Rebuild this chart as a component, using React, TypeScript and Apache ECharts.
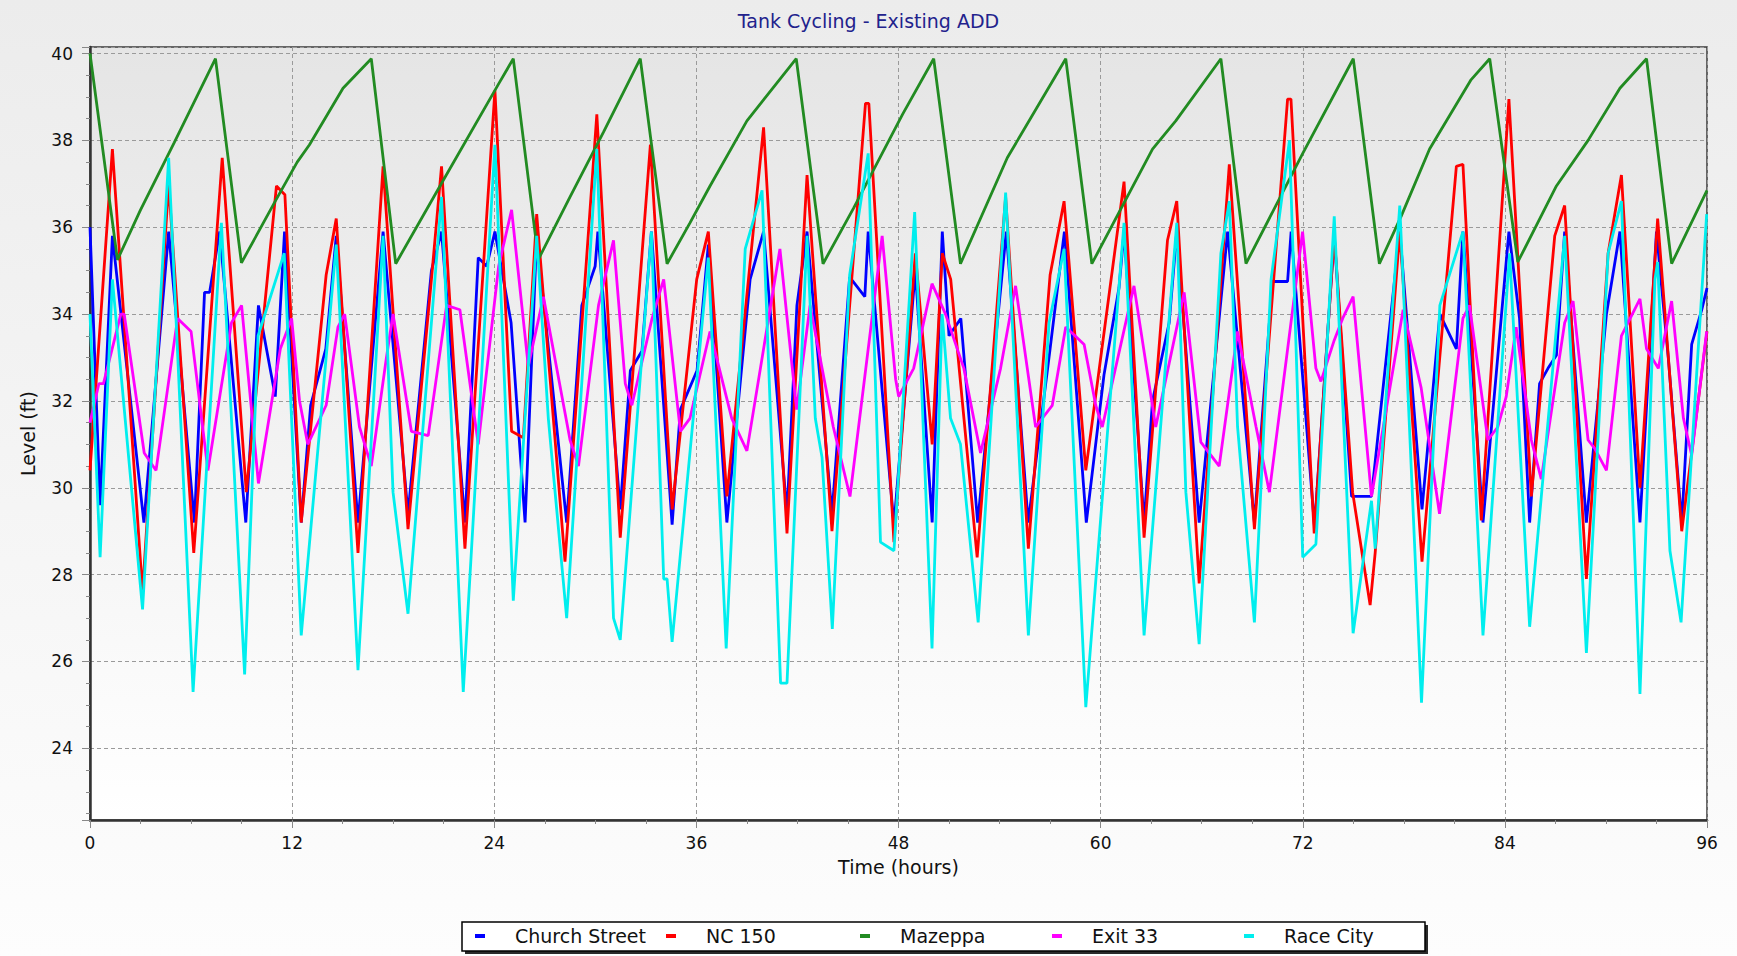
import React, { useEffect, useRef } from 'react';
import * as echarts from 'echarts';

// ---- Data (hours, level in ft) ----
const seriesNames = ['Church Street', 'NC 150', 'Mazeppa', 'Exit 33', 'Race City'];
const seriesColors = ['#0000FF', '#FF0000', '#228B22', '#FF00FF', '#00EEEE'];

const churchStreet: [number, number][] = [
  [0, 36.0], [0.6, 29.6], [1.33, 35.8], [3.2, 29.2], [4.67, 35.9], [6.2, 29.2], [6.8, 34.5], [7.1, 34.5], [7.7, 35.9], [9.25, 29.2], [10.0, 34.2], [11.0, 32.1], [11.55, 35.9],
  [12.54, 29.2], [13.1, 31.9], [14.0, 33.2], [14.62, 35.8], [15.91, 29.2], [17.4, 35.9], [18.88, 29.4], [20.27, 35.0], [20.87, 35.9], [22.26, 29.2], [23.05, 35.3], [23.55, 35.1], [24.04, 35.9],
  [25.0, 33.8], [25.83, 29.2], [26.52, 35.8], [28.3, 29.2], [29.2, 34.2], [29.99, 35.1], [30.15, 35.9], [31.48, 29.5], [32.08, 32.7], [32.77, 33.15], [33.33, 35.9], [34.06, 31.9], [34.56, 29.15], [35.05, 31.8], [36.04, 32.7],
  [36.71, 35.6], [37.81, 29.2], [39.19, 34.8], [39.99, 35.9], [41.38, 29.4], [41.97, 34.2], [42.57, 35.9], [44.05, 29.4], [45.1, 34.85], [46.0, 34.4], [46.2, 35.9], [47.73, 29.15],
  [49.0, 35.0], [50.0, 29.2], [50.6, 35.9], [51.0, 33.5], [51.7, 33.9], [52.7, 29.2], [54.4, 35.9], [55.7, 29.2], [57.0, 33.2], [57.85, 35.9], [59.15, 29.2],
  [60.2, 32.6], [61.09, 34.6], [61.39, 35.9], [62.58, 29.2], [63.08, 32.0], [64.07, 33.8], [64.52, 35.9], [65.85, 29.2], [67.54, 35.9], [69.13, 29.2], [70.2, 34.75], [71.1, 34.75], [71.31, 35.9],
  [72.7, 29.1], [73.87, 35.8], [74.9, 29.8], [76.08, 29.8], [77.76, 35.9], [79.08, 29.5], [80.14, 34.0], [81.12, 33.2], [81.51, 35.9], [82.7, 29.2], [84.24, 35.9],
  [84.87, 33.9], [85.47, 29.2], [86.06, 32.4], [86.56, 32.75], [87.06, 33.05], [87.55, 35.9], [88.84, 29.2], [90.03, 34.0], [90.83, 35.9], [92.02, 29.2], [93.0, 35.9], [93.7, 33.0], [94.5, 29.2], [95.09, 33.3], [95.69, 34.1], [96.0, 34.6],
];

const nc150: [number, number][] = [
  [0, 30.4], [1.33, 37.8], [3.12, 27.6], [4.67, 37.0], [6.16, 28.5], [7.85, 37.6], [9.28, 29.9], [11.07, 36.95], [11.57, 36.75],
  [12.54, 29.2], [14.02, 34.9], [14.62, 36.2], [15.91, 28.5], [17.4, 37.4], [18.88, 29.05], [20.27, 34.8], [20.87, 37.4], [22.26, 28.6], [24.04, 39.15],
  [25.03, 31.3], [25.73, 31.15], [26.52, 36.3], [28.2, 28.3], [30.09, 38.6], [31.48, 28.85], [33.27, 37.9], [34.56, 29.5], [36.02, 34.8], [36.71, 35.9],
  [37.81, 29.8], [39.99, 38.3], [41.38, 28.95], [42.57, 37.2], [44.05, 29.0], [46.04, 38.85], [46.24, 38.85], [47.73, 28.75],
  [49.0, 35.4], [50.0, 31.0], [50.6, 35.4], [51.1, 34.8], [52.67, 28.4], [54.36, 36.7], [55.71, 28.6], [57.0, 34.9], [57.83, 36.6], [59.12, 30.4],
  [61.39, 37.05], [62.58, 28.85], [63.97, 35.7], [64.52, 36.6], [65.85, 27.8], [67.64, 37.45], [69.13, 29.05], [71.1, 38.95], [71.3, 38.95],
  [72.68, 28.95], [73.87, 35.8], [74.96, 29.9], [76.0, 27.3], [76.3, 28.5], [77.76, 35.9], [79.08, 28.3], [81.12, 37.4], [81.51, 37.45], [82.6, 29.25], [84.24, 38.95],
  [85.57, 29.8], [86.96, 35.8], [87.55, 36.5], [88.84, 27.9], [90.13, 35.4], [90.92, 37.2], [92.02, 30.0], [93.07, 36.2], [94.5, 29.0], [96.0, 33.6],
];

const mazeppa: [number, number][] = [
  [0, 40.0], [1.63, 35.25], [3.0, 36.4], [5.0, 37.95], [7.45, 39.88], [8.99, 35.18], [11.0, 36.6], [12.3, 37.5], [13.03, 37.9], [15.02, 39.2], [16.7, 39.88],
  [18.15, 35.16], [21.0, 37.1], [24.26, 39.3], [25.13, 39.88], [26.62, 35.26], [28.5, 36.7], [30.5, 38.2], [32.67, 39.88], [34.26, 35.16], [35.62, 36.1],
  [36.81, 36.95], [39.0, 38.45], [41.93, 39.88], [43.52, 35.16], [45.35, 36.45], [48.24, 38.6], [50.09, 39.88], [51.68, 35.16], [54.46, 37.6], [57.93, 39.88],
  [59.48, 35.16], [63.08, 37.8], [64.46, 38.45], [67.14, 39.88], [68.63, 35.16], [72.0, 37.7], [75.0, 39.88], [76.55, 35.16], [77.84, 36.25], [79.53, 37.8],
  [82.0, 39.4], [83.1, 39.88], [84.77, 35.2], [87.06, 36.95], [88.94, 38.0], [90.83, 39.2], [92.41, 39.88], [93.9, 35.16], [96.0, 36.85],
];

const exit33: [number, number][] = [
  [0, 31.5], [0.53, 32.4], [0.8, 32.4], [1.83, 34.0], [2.03, 34.0], [3.22, 30.8], [3.92, 30.4], [5.2, 33.9], [6.0, 33.6], [7.0, 30.4], [8.4, 33.8], [9.0, 34.2], [10.0, 30.1], [11.3, 33.2], [11.97, 33.9],
  [12.44, 32.0], [12.93, 31.0], [14.02, 31.9], [14.72, 33.7], [15.12, 34.0], [16.0, 31.4], [16.7, 30.5], [17.6, 33.0], [17.99, 34.0], [19.08, 31.3], [20.08, 31.2], [21.17, 34.2], [21.96, 34.1], [23.05, 31.0], [24.26, 35.1],
  [25.03, 36.4], [26.02, 32.8], [26.92, 34.4], [28.5, 31.1], [29.0, 30.5], [30.19, 34.2], [31.08, 35.7], [31.78, 32.4], [32.17, 31.9], [33.37, 33.9], [34.06, 34.8], [35.05, 31.3], [35.62, 31.6], [36.81, 33.6],
  [38.1, 31.6], [39.0, 30.85], [40.96, 35.5], [41.95, 31.8], [42.75, 34.2], [44.13, 31.4], [45.12, 29.8], [47.03, 35.8], [47.83, 32.5],
  [48.01, 32.1], [48.9, 32.75], [49.99, 34.7], [50.79, 34.0], [51.88, 32.75], [52.87, 30.8], [54.06, 32.75], [54.95, 34.65], [56.14, 31.4], [57.13, 31.9], [57.93, 33.7], [59.02, 33.3], [59.71, 31.9],
  [60.1, 31.4], [61.98, 34.65], [63.27, 31.4], [64.96, 34.5], [65.95, 31.05], [67.04, 30.5], [68.13, 33.6], [69.23, 31.4], [70.02, 29.9], [71.99, 35.9],
  [72.78, 32.75], [73.08, 32.45], [73.87, 33.4], [74.37, 33.9], [74.99, 34.4], [76.08, 29.8], [77.96, 34.1], [79.03, 32.3], [80.12, 29.4], [81.51, 33.9], [81.9, 34.2], [82.99, 31.1], [83.58, 31.4], [84.08, 32.1],
  [84.67, 33.7], [85.57, 31.1], [86.16, 30.2], [87.55, 33.8], [88.05, 34.3], [88.94, 31.1], [89.34, 30.9], [90.03, 30.4], [90.92, 33.5], [92.02, 34.35], [92.41, 33.2], [93.11, 32.75], [93.9, 34.3], [94.6, 31.6], [95.09, 30.75], [95.98, 33.6],
];

const raceCity: [number, number][] = [
  [0, 34.0], [0.6, 28.4], [1.33, 34.8], [3.12, 27.2], [4.67, 37.6], [6.12, 25.3], [7.8, 36.1], [9.18, 25.7], [9.98, 33.5], [11.53, 35.4],
  [12.54, 26.6], [14.62, 35.6], [15.91, 25.8], [17.4, 35.8], [17.99, 29.9], [18.88, 27.1], [20.87, 36.7], [22.16, 25.3], [24.04, 37.9],
  [25.13, 27.4], [26.52, 35.8], [27.21, 31.6], [28.3, 27.0], [30.09, 37.8], [31.08, 27.0], [31.48, 26.5], [33.33, 35.9], [34.06, 27.9], [34.26, 27.9], [34.56, 26.45],
  [36.71, 35.3], [37.77, 26.3], [38.9, 35.5], [39.9, 36.85], [41.0, 25.5], [41.38, 25.5], [42.57, 35.8], [43.06, 31.6], [43.46, 30.7], [44.07, 26.75], [45.1, 34.9], [46.2, 37.7], [46.93, 28.75], [47.73, 28.55],
  [48.96, 36.35], [49.99, 26.3], [50.59, 34.0], [51.09, 31.6], [51.68, 31.0], [52.73, 26.9], [54.36, 36.8], [55.71, 26.6], [56.94, 33.8], [57.83, 35.5], [59.12, 24.95],
  [61.39, 36.1], [62.58, 26.6], [64.52, 36.1], [65.06, 29.9], [65.85, 26.4], [67.14, 35.4], [67.64, 36.6], [68.13, 31.4], [69.13, 26.9], [70.12, 34.8], [71.21, 38.0], [72.0, 28.4],
  [72.78, 28.7], [73.87, 36.25], [74.99, 26.65], [76.08, 29.7], [76.3, 28.6], [77.76, 36.5], [79.05, 25.05], [80.14, 34.2], [81.51, 35.9], [82.7, 26.6],
  [84.28, 35.4], [85.47, 26.8], [87.55, 35.8], [88.84, 26.2], [90.13, 35.4], [90.92, 36.6], [92.02, 25.25], [92.91, 34.8], [93.07, 35.2], [93.8, 28.55], [94.46, 26.9], [95.98, 36.3],
];

const seriesData = [churchStreet, nc150, mazeppa, exit33, raceCity];

const titleText = 'Tank Cycling - Existing ADD';
const xAxisName = 'Time (hours)';
const yAxisName = 'Level (ft)';

// left edge of each legend entry's marker (px)
const legendLefts = [475, 666, 860, 1052, 1244];

export default function App() {
  const ref = useRef<HTMLDivElement>(null);

  useEffect(() => {
    if (!ref.current) return;
    const chart = echarts.init(ref.current, null, { renderer: 'svg' });
    const font = '"DejaVu Sans", Verdana, sans-serif';
    const axisText = { fontFamily: font, fontSize: 17, color: '#111' };

    chart.setOption({
      animation: false,
      backgroundColor: {
        type: 'linear', x: 0, y: 0, x2: 0, y2: 1,
        colorStops: [{ offset: 0, color: '#ececec' }, { offset: 1, color: '#fdfdfd' }],
      },
      title: {
        text: titleText,
        left: 'center',
        top: 6,
        textStyle: { fontFamily: font, fontSize: 19, fontWeight: 'normal', color: '#22228c' },
      },
      grid: {
        left: 90, top: 47, width: 1617, height: 773,
        show: true,
        borderColor: '#3a3a3a',
        borderWidth: 1.5,
        backgroundColor: {
          type: 'linear', x: 0, y: 0, x2: 0, y2: 1,
          colorStops: [{ offset: 0, color: '#e5e5e5' }, { offset: 1, color: '#ffffff' }],
        },
      },
      xAxis: {
        type: 'value',
        min: 0, max: 96, interval: 12,
        name: xAxisName,
        nameLocation: 'middle',
        nameGap: 37,
        nameTextStyle: { fontFamily: font, fontSize: 19, color: '#111' },
        axisLine: { show: true, onZero: false, lineStyle: { color: '#333', width: 2.5 } },
        axisTick: { show: true, length: 8, lineStyle: { color: '#888' } },
        minorTick: { show: true, splitNumber: 4, length: 4, lineStyle: { color: '#888' } },
        splitLine: { show: true, lineStyle: { color: '#9a9a9a', type: [4, 3], width: 1 } },
        axisLabel: { ...axisText, margin: 14 },
      },
      yAxis: {
        type: 'value',
        min: 22.35, max: 40.15, splitNumber: 9,
        name: yAxisName,
        nameLocation: 'middle',
        nameGap: 53,
        nameTextStyle: { fontFamily: font, fontSize: 19, color: '#111' },
        axisLine: { show: true, onZero: false, lineStyle: { color: '#333', width: 2.5 } },
        axisTick: { show: true, length: 8, lineStyle: { color: '#888' } },
        minorTick: { show: true, splitNumber: 4, length: 4, lineStyle: { color: '#888' } },
        splitLine: { show: true, lineStyle: { color: '#9a9a9a', type: [4, 3], width: 1 } },
        axisLabel: { ...axisText, margin: 17, showMinLabel: false, showMaxLabel: false },
      },
      legend: seriesNames.map((name, i) => ({
        data: [name],
        left: legendLefts[i],
        top: 926.5,
        padding: 0,
        itemWidth: 10,
        itemHeight: 4,
        icon: 'rect',
        textStyle: { fontFamily: font, fontSize: 19, color: '#111', padding: [0, 0, 0, 25] },
      })),
      graphic: [
        { type: 'rect', shape: { x: 465, y: 925, width: 963, height: 29 }, style: { fill: '#2a2a2a' }, z: 0 },
        { type: 'rect', shape: { x: 462, y: 922, width: 963, height: 29 }, style: { fill: '#ffffff', stroke: '#000', lineWidth: 1.5 }, z: 1 },
      ],
      series: seriesNames.map((name, i) => ({
        name,
        type: 'line',
        data: seriesData[i],
        showSymbol: false,
        symbol: 'none',
        color: seriesColors[i],
        lineStyle: { width: 2.8, color: seriesColors[i] },
        z: 2 + i,
      })),
    });

    return () => chart.dispose();
  }, []);

  return <div ref={ref} style={{ position: 'absolute', left: 0, top: 0, width: 1737, height: 956 }} />;
}
